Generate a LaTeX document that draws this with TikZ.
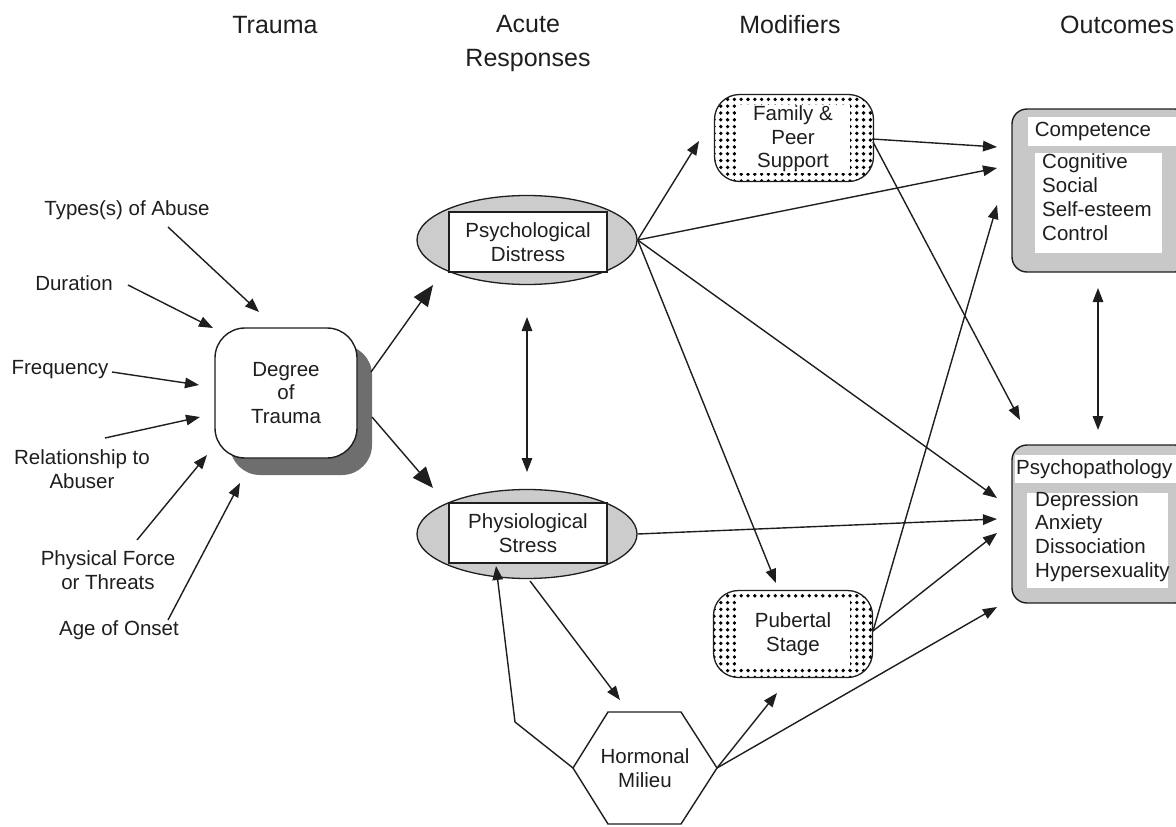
\documentclass[tikz,border=0pt]{standalone}
\usepackage{fontspec}
\setmainfont{Liberation Sans}
\usetikzlibrary{arrows.meta,patterns.meta,shapes.geometric}
\definecolor{ink}{HTML}{1E1E1E}
\definecolor{shadowgray}{HTML}{6E6E6E}
\definecolor{ellgray}{HTML}{CCCCCC}
\definecolor{boxgray}{HTML}{C8C8C8}
\begin{document}
\begin{tikzpicture}[x=1pt,y=-1pt,
  every node/.style={text=ink},
  body/.style={font=\fontsize{20.5}{23.6}\selectfont, align=center, inner sep=0pt},
  hdr/.style={font=\fontsize{25}{34}\selectfont, align=center, inner sep=0pt},
  lbl/.style={body},
  arr/.style={draw=ink, line width=1.4pt, -{Triangle[length=14pt,width=10.5pt]}},
  dbl/.style={draw=ink, line width=1.4pt, {Triangle[length=14pt,width=10.5pt]}-{Triangle[length=14pt,width=10.5pt]}},
  bigarr/.style={draw=ink, line width=1.4pt, -{Triangle[length=21pt,width=17pt]}},
  acute/.style={draw=ink, line width=1.3pt, ellipse, fill=ellgray, minimum width=220pt, minimum height=89pt, inner sep=0pt},
  inbox/.style={draw=ink, line width=1.3pt, fill=white, minimum width=158pt, minimum height=60pt, body},
  modbox/.style={draw=ink, line width=1.3pt, rounded corners=25pt, pattern={Dots[radius=1.9pt,distance=6.8pt]}, pattern color=black, minimum width=159pt, minimum height=87pt, inner sep=0pt},
  modin/.style={fill=white, minimum width=114pt, minimum height=68pt, body},
  outbox/.style={draw=ink, line width=1.4pt, fill=boxgray, rounded corners=15pt}
]
\useasboundingbox (0,0) rectangle (1176,827);

% headers
\node[hdr] (hTrauma) at (275,25) {Trauma};
\node[hdr] (hAcute) at (528,43) {Acute\\Responses};
\node[hdr] (hMod) at (790,25) {Modifiers};
\node[hdr, anchor=west] (hOut) at (1060,25) {Outcomes};

% trauma factors
\node[lbl] (types) at (127,210) {Types(s) of Abuse};
\node[lbl] (dur) at (74,283) {Duration};
\node[lbl] (freq) at (60,370) {Frequency};
\node[lbl] (rel) at (82,469) {Relationship to\\Abuser};
\node[lbl] (phys) at (108,570) {Physical Force\\or Threats};
\node[lbl] (age) at (119,630) {Age of Onset};

% degree of trauma
\fill[shadowgray, rounded corners=30pt] (230,345) rectangle (372,475);
\node[draw=ink, line width=1.4pt, fill=white, rounded corners=30pt, minimum width=142pt, minimum height=130pt, body] (deg) at (286,393) {Degree\\of\\Trauma};

% acute responses
\node[acute] (pd) at (527,240) {};
\node[inbox] (pdt) at (528,242) {Psychological\\Distress};
\node[acute] (ps) at (527,534) {};
\node[inbox] (pst) at (528,533) {Physiological\\Stress};

% hormonal milieu
\coordinate (hexTL) at (608,712);
\coordinate (hexTR) at (681,712);
\coordinate (hexR) at (717,768);
\coordinate (hexBR) at (681,824);
\coordinate (hexBL) at (608,824);
\coordinate (hexL) at (573,768);
\draw[ink, line width=1.4pt] (hexTL) -- (hexTR) -- (hexR) -- (hexBR) -- (hexBL) -- (hexL) -- cycle;
\node[body] (horm) at (645,768) {Hormonal\\Milieu};

% modifiers
\node[modbox] (fam) at (794,138) {};
\node[modin] (famt) at (793,139) {Family \&\\Peer\\Support};
\node[modbox] (pub) at (793,634) {};
\node[modin] (pubt) at (793,634) {Pubertal\\Stage};

% outcomes
\path[outbox] (1012,109) rectangle (1190,272);
\fill[white] (1028,117) rectangle (1190,146);
\node[body] (comp) at (1093,131) {Competence};
\fill[white] (1035,153) rectangle (1162,253);
\node[body, anchor=north west, align=left, font=\fontsize{20.5}{24.2}\selectfont] (compl) at (1042,153) {Cognitive\\Social\\Self-esteem\\Control};

\path[outbox] (1012,445) rectangle (1190,603);
\fill[white] (1015,455) rectangle (1190,483);
\node[body, anchor=west] (psy) at (1016,469) {Psychopathology};
\fill[white] (1027,493) rectangle (1168,588);
\node[body, anchor=north west, align=left, font=\fontsize{20.5}{23.8}\selectfont] (psyl) at (1035,491) {Depression\\Anxiety\\Dissociation\\Hypersexuality};

% coordinates for arrow ends
\coordinate (sTypes) at (168,227);  \coordinate (eTypes) at (259,312);
\coordinate (sDur) at (128,285);    \coordinate (eDur) at (213,328);
\coordinate (sFreq) at (112,372);   \coordinate (eFreq) at (199,385);
\coordinate (sRel) at (105,438);    \coordinate (eRel) at (200,417);
\coordinate (sPhys) at (137,540);   \coordinate (ePhys) at (207,455);
\coordinate (sAge) at (168,620);    \coordinate (eAge) at (240,483);

\coordinate (degUp) at (371,372);   \coordinate (degDn) at (372,417);
\coordinate (ePD) at (433,285);     \coordinate (ePS) at (433,488);

\coordinate (pdDn) at (527,317);    \coordinate (psUp) at (527,472);
\coordinate (ePDfam) at (699,141);
\coordinate (ePDcomp) at (997,168);
\coordinate (ePDpsy) at (997,498);
\coordinate (ePDpub) at (776,583);
\coordinate (ePSpsy) at (997,519);
\coordinate (sPShorm) at (530,581); \coordinate (ePShorm) at (620,700);
\coordinate (loopK) at (515,722);   \coordinate (eLoop) at (496,566);
\coordinate (eHpub) at (777,693);
\coordinate (eHpsy) at (997,607);
\coordinate (sFam) at (872,139);    \coordinate (eFamComp) at (997,147);
\coordinate (sFam2) at (873,142);   \coordinate (eFamPsy) at (1020,420);
\coordinate (sPub) at (873,631);
\coordinate (ePubComp) at (997,205);
\coordinate (ePubPsy) at (997,533);
\coordinate (compDn) at (1098,288); \coordinate (psyUp) at (1098,430);

% arrows from factors
\draw[arr] (sTypes) -- (eTypes);
\draw[arr] (sDur) -- (eDur);
\draw[arr] (sFreq) -- (eFreq);
\draw[arr] (sRel) -- (eRel);
\draw[arr] (sPhys) -- (ePhys);
\draw[arr] (sAge) -- (eAge);

% degree to acute responses
\draw[bigarr] (degUp) -- (ePD);
\draw[bigarr] (degDn) -- (ePS);

% between acute responses
\draw[dbl] (pdDn) -- (psUp);

% from psychological distress
\draw[arr] (pd.east) -- (ePDfam);
\draw[arr] (pd.east) -- (ePDcomp);
\draw[arr] (pd.east) -- (ePDpsy);
\draw[arr] (pd.east) -- (ePDpub);

% from physiological stress
\draw[arr] (ps.east) -- (ePSpsy);
\draw[arr] (sPShorm) -- (ePShorm);

% hormonal milieu
\draw[arr] (hexL) -- (loopK) -- (eLoop);
\draw[arr] (hexR) -- (eHpub);
\draw[arr] (hexR) -- (eHpsy);

% modifiers to outcomes
\draw[arr] (sFam) -- (eFamComp);
\draw[arr] (sFam2) -- (eFamPsy);
\draw[arr] (sPub) -- (ePubComp);
\draw[arr] (sPub) -- (ePubPsy);

% between outcomes
\draw[dbl] (compDn) -- (psyUp);
\end{tikzpicture}
\end{document}
